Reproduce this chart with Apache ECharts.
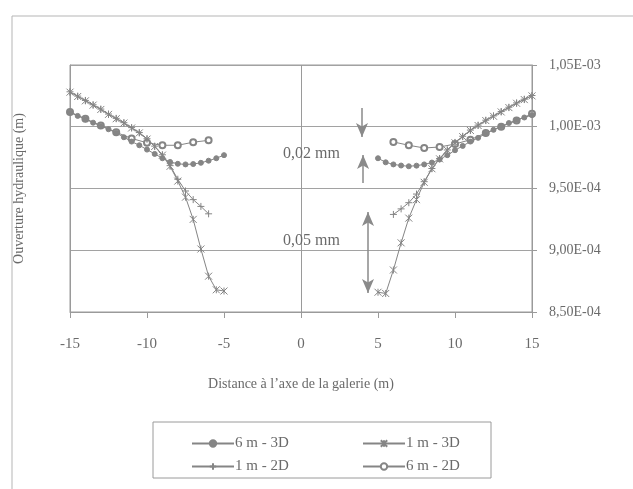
<!DOCTYPE html>
<html><head><meta charset="utf-8">
<script src="https://cdn.jsdelivr.net/npm/echarts@6/dist/echarts.min.js"></script>
<style>html,body{margin:0;padding:0;background:#fff}#c{width:633px;height:489px}</style>
</head><body><div id="c"></div><script>
// ---- data (ouverture hydraulique in m, distance in m) ----
const seriesNames = ['6 m - 3D', '1 m - 3D', '1 m - 2D', '6 m - 2D'];
const xTickLabels = ['-15', '-10', '-5', '0', '5', '10', '15'];
const yTickLabels = ['8,50E-04', '9,00E-04', '9,50E-04', '1,00E-03', '1,05E-03'];

const xDenseLeft  = [-15,-14.5,-14,-13.5,-13,-12.5,-12,-11.5,-11,-10.5,-10,-9.5,-9,-8.5,-8,-7.5,-7,-6.5,-6,-5.5,-5];
const xDenseRight = [5,5.5,6,6.5,7,7.5,8,8.5,9,9.5,10,10.5,11,11.5,12,12.5,13,13.5,14,14.5,15];

const y1m3dLeft  = [1.028e-3,1.0245e-3,1.021e-3,1.0175e-3,1.014e-3,1.010e-3,1.0065e-3,1.003e-3,0.999e-3,0.995e-3,0.990e-3,0.984e-3,0.977e-3,0.968e-3,0.956e-3,0.943e-3,0.925e-3,0.901e-3,0.879e-3,0.868e-3,0.867e-3];
const y1m3dRight = [0.866e-3,0.865e-3,0.884e-3,0.906e-3,0.926e-3,0.941e-3,0.955e-3,0.966e-3,0.974e-3,0.981e-3,0.987e-3,0.992e-3,0.997e-3,1.001e-3,1.005e-3,1.0085e-3,1.012e-3,1.0155e-3,1.019e-3,1.022e-3,1.025e-3];

const x1m2dLeft  = [-15,-14.5,-14,-13.5,-13,-12.5,-12,-11.5,-11,-10.5,-10,-9.5,-9,-8.5,-8,-7.5,-7,-6.5,-6];
const y1m2dLeft  = [1.0283e-3,1.0248e-3,1.0213e-3,1.0178e-3,1.0143e-3,1.0103e-3,1.0068e-3,1.0033e-3,0.9993e-3,0.9953e-3,0.9903e-3,0.9843e-3,0.9773e-3,0.9685e-3,0.9575e-3,0.948e-3,0.941e-3,0.9355e-3,0.9295e-3];
const x1m2dRight = [6,6.5,7,7.5,8,8.5,9,9.5,10,10.5,11,11.5,12,12.5,13,13.5,14,14.5,15];
const y1m2dRight = [0.929e-3,0.9335e-3,0.9385e-3,0.9455e-3,0.9555e-3,0.9662e-3,0.9743e-3,0.9812e-3,0.9873e-3,0.9923e-3,0.9973e-3,1.0013e-3,1.0053e-3,1.0088e-3,1.0123e-3,1.0158e-3,1.0193e-3,1.0223e-3,1.0253e-3];

const y6m3dLeft  = [1.0115e-3,1.0088e-3,1.006e-3,1.0033e-3,1.0005e-3,0.998e-3,0.995e-3,0.9915e-3,0.988e-3,0.985e-3,0.9815e-3,0.978e-3,0.9745e-3,0.9715e-3,0.970e-3,0.9695e-3,0.9698e-3,0.9708e-3,0.9725e-3,0.9745e-3,0.977e-3];
const y6m3dRight = [0.9745e-3,0.9712e-3,0.9695e-3,0.9686e-3,0.968e-3,0.9685e-3,0.9695e-3,0.971e-3,0.9735e-3,0.977e-3,0.981e-3,0.9845e-3,0.988e-3,0.991e-3,0.9945e-3,0.9975e-3,1.0005e-3,1.003e-3,1.0055e-3,1.0075e-3,1.0095e-3];

const x6m2dLeft  = [-15,-14,-13,-12,-11,-10,-9,-8,-7,-6];
const y6m2dLeft  = [1.012e-3,1.0065e-3,1.001e-3,0.9955e-3,0.9905e-3,0.987e-3,0.985e-3,0.985e-3,0.9875e-3,0.989e-3];
const x6m2dRight = [6,7,8,9,10,11,12,13,14,15];
const y6m2dRight = [0.9877e-3,0.985e-3,0.9828e-3,0.9836e-3,0.986e-3,0.9895e-3,0.995e-3,1.0e-3,1.005e-3,1.0105e-3];

// annotations (data coordinates)
const annotTexts = ['0,02 mm', '0,05 mm'];
const annotTextPos = [[-1.17, 0.9771e-3], [-1.17, 0.9067e-3]];

// ---- build ----
const pairs = (xs, ys) => xs.map((x, i) => [x, ys[i]]);
const joinSides = (l, r) => l.concat([['-', '-']], r);

const GRAY = '#858585';
const TXT = '#6a6a6a';
const FONT = 'Liberation Serif';

const starPath = 'path://M0,0L10,10M10,0L0,10M5,0L5,10';
const plusPath = 'path://M5,0L5,10M0,5L10,5';

function mkSeries(name, data, symbol, size, z) {
  return {
    name, type: 'line', data, connectNulls: false,
    symbol, symbolSize: size, showSymbol: true, showAllSymbol: true,
    lineStyle: { color: GRAY, width: 1 },
    itemStyle: { color: GRAY, borderColor: GRAY, borderWidth: 1 },
    emphasis: { disabled: true }, animation: false, z: z
  };
}

function fmtSci(v) {
  const [m, e] = v.toExponential(2).split('e');
  const n = parseInt(e, 10);
  return m.replace('.', ',') + 'E' + (n < 0 ? '-' : '+') + String(Math.abs(n)).padStart(2, '0');
}

const chart = echarts.init(document.getElementById('c'), null, { renderer: 'canvas' });

const option = {
  animation: false,
  backgroundColor: '#fff',
  textStyle: { fontFamily: FONT },
  grid: { left: 70, right: 101, top: 65, bottom: 177, show: true, borderColor: '#9a9a9a', borderWidth: 1, backgroundColor: '#fff' },
  xAxis: {
    type: 'value', min: -15, max: 15, interval: 5,
    name: 'Distance à l’axe de la galerie (m)', nameLocation: 'middle', nameGap: 65,
    nameTextStyle: { fontFamily: FONT, fontSize: 14, color: TXT },
    axisLine: { show: true, onZero: false, lineStyle: { color: '#9a9a9a' } },
    axisTick: { show: true, inside: false, length: 6, lineStyle: { color: '#9a9a9a' } },
    axisLabel: { margin: 25, fontFamily: FONT, fontSize: 15, color: TXT,
      formatter: (v) => xTickLabels[Math.round((v + 15) / 5)] },
    splitLine: { show: false }
  },
  yAxis: [
    {
      type: 'value', min: 8.5e-4, max: 1.05e-3, interval: 5e-5, position: 'left',
      name: 'Ouverture hydraulique (m)', nameLocation: 'middle', nameGap: 44, nameRotate: 90,
      nameTextStyle: { fontFamily: FONT, fontSize: 14, color: TXT },
      axisLine: { show: true, onZero: false, lineStyle: { color: '#9a9a9a' } },
      axisTick: { show: false }, axisLabel: { show: false },
      splitLine: { show: true, lineStyle: { color: '#a2a2a2', width: 1 } }
    },
    {
      type: 'value', min: 8.5e-4, max: 1.05e-3, interval: 5e-5, position: 'right',
      axisLine: { show: true, onZero: false, lineStyle: { color: '#9a9a9a' } },
      axisTick: { show: true, length: 5, lineStyle: { color: '#9a9a9a' } },
      axisLabel: { margin: 17, fontFamily: FONT, fontSize: 14, color: TXT, align: 'left',
        formatter: (v) => { const i = Math.round((v - 8.5e-4) / 5e-5); return yTickLabels[i] !== undefined ? yTickLabels[i] : fmtSci(v); } },
      splitLine: { show: false }
    }
  ],
  legend: [
    { data: [seriesNames[0], seriesNames[2]], orient: 'vertical', left: 186, top: 431, itemGap: 8,
      itemWidth: 42, itemHeight: 8, textStyle: { fontFamily: FONT, fontSize: 15, color: TXT, padding: [0,0,0,-4] }, selectedMode: false },
    { data: [seriesNames[1], seriesNames[3]], orient: 'vertical', left: 357, top: 431, itemGap: 8,
      itemWidth: 42, itemHeight: 8, textStyle: { fontFamily: FONT, fontSize: 15, color: TXT, padding: [0,0,0,-4] }, selectedMode: false }
  ],
  series: [
    mkSeries(seriesNames[3], joinSides(pairs(x6m2dLeft, y6m2dLeft), pairs(x6m2dRight, y6m2dRight)), 'emptyCircle', 6, 3),
    mkSeries(seriesNames[2], joinSides(pairs(x1m2dLeft, y1m2dLeft), pairs(x1m2dRight, y1m2dRight)), plusPath, 7, 3),
    mkSeries(seriesNames[0], joinSides(pairs(xDenseLeft, y6m3dLeft), pairs(xDenseRight, y6m3dRight)), 'circle', 5, 4),
    mkSeries(seriesNames[1], joinSides(pairs(xDenseLeft, y1m3dLeft), pairs(xDenseRight, y1m3dRight)), starPath, 7, 4),
    {
      name: 'annotations', type: 'line', data: [], silent: true, z: 2,
      markLine: {
        silent: true, animation: false, label: { show: false },
        lineStyle: { color: '#8a8a8a', width: 1.5, type: 'solid' },
        symbolSize: [9, 14],
        data: [
          [{ coord: [0, 8.5e-4], symbol: 'none' }, { coord: [0, 1.05e-3], symbol: 'none', lineStyle: { width: 1, color: '#9a9a9a' } }],
          [{ coord: [3.96, 1.0152e-3], symbol: 'none' }, { coord: [3.96, 0.9917e-3], symbol: 'arrow' }],
          [{ coord: [4.03, 0.9545e-3], symbol: 'none' }, { coord: [4.03, 0.9771e-3], symbol: 'arrow' }],
          [{ coord: [4.35, 0.8654e-3], symbol: 'arrow' }, { coord: [4.35, 0.931e-3], symbol: 'arrow' }]
        ]
      }
    }
  ]
};
chart.setOption(option);

// text annotations and frames placed through the grid's own scale
const texts = annotTexts.map((t, i) => {
  const p = chart.convertToPixel({ gridIndex: 0 }, annotTextPos[i]);
  return { type: 'text', left: p[0], top: p[1] - 9, z: 10,
    style: { text: t, fill: TXT, font: '16px "' + FONT + '"' } };
});
chart.setOption({
  graphic: [
    { type: 'rect', shape: { x: 12, y: 16, width: 700, height: 600 }, style: { fill: 'none', stroke: '#b5b5b5', lineWidth: 1 }, z: -1, silent: true },
    { type: 'rect', shape: { x: 153, y: 422, width: 338, height: 56 }, style: { fill: 'none', stroke: '#9a9a9a', lineWidth: 1 }, z: 1, silent: true }
  ].concat(texts)
});
</script></body></html>
